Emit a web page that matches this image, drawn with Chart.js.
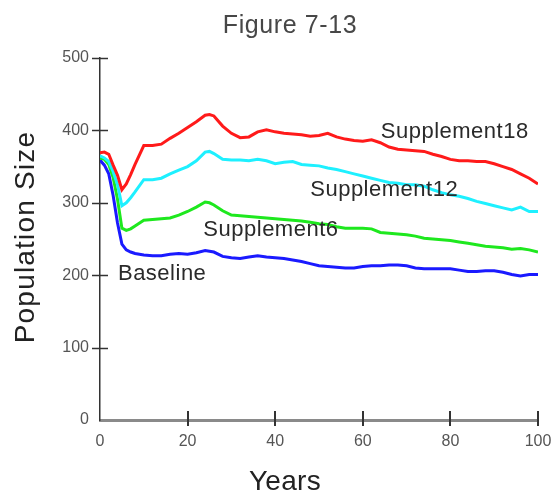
<!DOCTYPE html>
<html>
<head>
<meta charset="utf-8">
<title>Figure 7-13</title>
<script src="https://cdn.jsdelivr.net/npm/chart.js@4.4.0/dist/chart.umd.min.js"></script>
<style>
    html, body { margin: 0; padding: 0; background: #ffffff; }
    canvas { display: block; }
</style>
</head>
<body>
<canvas id="popChart" width="552" height="494"></canvas>

<script>
    // population size per year, one array per run
    const years = [0, 1, 2, 3, 4, 5, 6, 7, 8, 10, 12, 14, 16, 18, 20, 22, 24, 25,
        26, 28, 30, 32, 34, 36, 38, 40, 42, 44, 46, 48, 50, 52, 54, 56, 58, 60, 62,
        64, 66, 68, 70, 72, 74, 76, 78, 80, 82, 84, 86, 88, 90, 92, 94, 96, 98, 100];

    const supplement18 = [369, 370, 367, 352, 338, 318, 326, 339, 353, 379, 379, 381, 389, 396, 404, 412, 421, 422,
        420, 406, 396, 390, 391, 398, 401, 398, 396, 395, 394, 392, 393, 396, 391, 388, 386, 385, 387,
        383, 377, 374, 373, 372, 371, 367, 364, 360, 358, 358, 357, 357, 354, 350, 346, 340, 334, 326];

    const supplement12 = [365, 362, 357, 343, 325, 296, 300, 307, 315, 332, 332, 334, 340, 345, 350, 358, 370, 371,
        368, 360, 359, 359, 358, 360, 358, 354, 356, 357, 353, 352, 351, 348, 346, 343, 340, 337, 334,
        331, 328, 327, 325, 325, 323, 318, 314, 311, 309, 306, 302, 299, 296, 293, 290, 294, 288, 288];

    const supplement6 = [362, 360, 353, 335, 305, 265, 262, 264, 268, 276, 277, 278, 279, 283, 288, 294, 301, 300,
        297, 289, 283, 282, 281, 280, 279, 278, 277, 276, 275, 273, 271, 270, 267, 265, 265, 265, 264,
        259, 258, 257, 256, 254, 251, 250, 249, 248, 246, 244, 242, 240, 239, 238, 236, 237, 235, 232];

    const baseline = [359, 352, 340, 310, 272, 243, 235, 232, 230, 228, 227, 227, 229, 230, 229, 231, 234, 233,
        232, 226, 224, 223, 225, 227, 225, 224, 223, 221, 219, 216, 213, 212, 211, 210, 210, 212, 213,
        213, 214, 214, 213, 210, 209, 209, 209, 209, 207, 205, 205, 206, 206, 204, 201, 199, 201, 201];

    const xTicks = [0, 20, 40, 60, 80, 100];
    const yTicks = [0, 100, 200, 300, 400, 500];

    const chartTitle = 'Figure 7-13';
    const xTitle = 'Years';
    const yTitle = 'Population Size';

    // name written next to each line, anchored at (year, population)
    const seriesNames = [
        { text: 'Supplement18', year: 64.1, pop: 389 },
        { text: 'Supplement12', year: 48.0, pop: 310 },
        { text: 'Supplement6', year: 23.6, pop: 254 },
        { text: 'Baseline', year: 4.1, pop: 194 }
    ];
</script>

<script>
    const fontFamily = '"Liberation Sans", Arial, Helvetica, sans-serif';

    function points(values) {
        return years.map(function (yr, i) { return { x: yr, y: values[i] }; });
    }

    function lineSet(label, values, color) {
        return {
            label: label,
            data: points(values),
            borderColor: color,
            backgroundColor: color,
            borderWidth: 3,
            pointRadius: 0,
            tension: 0,
            fill: false
        };
    }

    // ticks that cross the axis lines, plus titles and the line names
    const figureText = {
        id: 'figureText',
        afterDraw: function (chart) {
            const ctx = chart.ctx;
            const sx = chart.scales.x;
            const sy = chart.scales.y;
            const area = chart.chartArea;
            ctx.save();

            ctx.strokeStyle = '#333333';
            ctx.lineWidth = 1.5;
            yTicks.forEach(function (v) {
                if (v === 0) return;
                const py = Math.round(sy.getPixelForValue(v)) + 0.5;
                ctx.beginPath();
                ctx.moveTo(area.left - 8, py);
                ctx.lineTo(area.left + 8, py);
                ctx.stroke();
            });
            ctx.lineWidth = 2;
            xTicks.forEach(function (v) {
                if (v === 0) return;
                const px = Math.round(sx.getPixelForValue(v));
                ctx.beginPath();
                ctx.moveTo(px, area.bottom - 9);
                ctx.lineTo(px, area.bottom + 6);
                ctx.stroke();
            });

            ctx.textBaseline = 'alphabetic';
            ctx.textAlign = 'center';

            ctx.fillStyle = '#474747';
            ctx.font = '25px ' + fontFamily;
            ctx.letterSpacing = '0.6px';
            ctx.fillText(chartTitle, 290, 33);

            ctx.fillStyle = '#222222';
            ctx.font = '28px ' + fontFamily;
            ctx.letterSpacing = '0.3px';
            ctx.fillText(xTitle, 285, 490);

            ctx.save();
            ctx.translate(34, 237);
            ctx.rotate(-Math.PI / 2);
            ctx.letterSpacing = '1.2px';
            ctx.fillText(yTitle, 0, 0);
            ctx.restore();

            ctx.fillStyle = '#2a2a2a';
            ctx.font = '22px ' + fontFamily;
            ctx.letterSpacing = '0.5px';
            ctx.textAlign = 'left';
            seriesNames.forEach(function (s) {
                ctx.fillText(s.text, sx.getPixelForValue(s.year), sy.getPixelForValue(s.pop));
            });

            ctx.restore();
        }
    };

    const ctx1 = document.getElementById('popChart').getContext('2d');
    const popChart = new Chart(ctx1, {
        type: 'line',
        data: {
            datasets: [
                lineSet('Supplement18', supplement18, '#ff1a1a'),
                lineSet('Supplement12', supplement12, '#1ef0ff'),
                lineSet('Supplement6', supplement6, '#1ee81e'),
                lineSet('Baseline', baseline, '#1a1aff')
            ]
        },
        options: {
            responsive: false,
            animation: false,
            layout: { padding: { top: 58, right: 0, bottom: 0, left: 0 } },
            plugins: {
                legend: { display: false },
                title: { display: false },
                tooltip: { enabled: false }
            },
            scales: {
                x: {
                    type: 'linear',
                    min: 0,
                    max: 100,
                    afterBuildTicks: function (scale) {
                        scale.ticks = xTicks.map(function (v) { return { value: v }; });
                    },
                    afterFit: function (scale) {
                        scale.height = 74;
                        scale.paddingRight = 14;
                    },
                    grid: { display: false, drawTicks: false },
                    border: { display: true, color: '#8a8a8a', width: 3 },
                    ticks: {
                        padding: 12,
                        color: '#555555',
                        maxRotation: 0,
                        font: { family: fontFamily, size: 16 }
                    }
                },
                y: {
                    type: 'linear',
                    min: 0,
                    max: 500,
                    afterBuildTicks: function (scale) {
                        scale.ticks = yTicks.map(function (v) { return { value: v }; });
                    },
                    afterFit: function (scale) { scale.width = 100; },
                    grid: { display: false, drawTicks: false },
                    border: { display: true, color: '#333333', width: 1.5 },
                    ticks: {
                        padding: 11,
                        color: '#555555',
                        font: { family: fontFamily, size: 16 }
                    }
                }
            }
        },
        plugins: [figureText]
    });
</script>
</body>
</html>
